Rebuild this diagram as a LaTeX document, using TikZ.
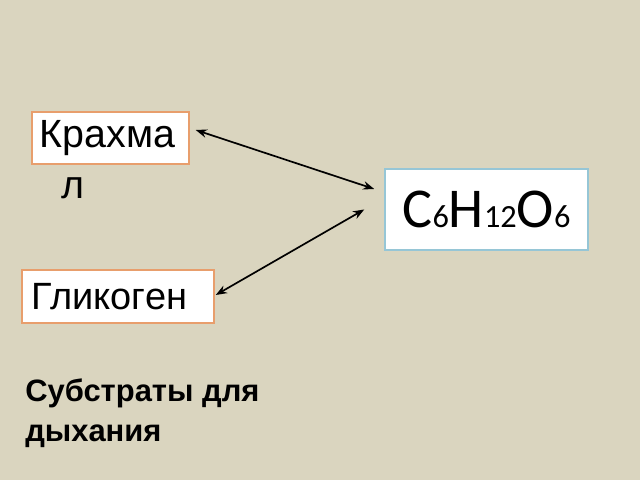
\documentclass[tikz,border=0pt]{standalone}
\usepackage{fontspec}
\setmainfont{Liberation Sans}
\newfontfamily\formulafont{Carlito}
\usetikzlibrary{arrows.meta}

\definecolor{bgtan}{RGB}{218,213,191}
\definecolor{boxorange}{RGB}{232,158,108}
\definecolor{boxblue}{RGB}{150,198,214}

\begin{document}
\begin{tikzpicture}[
    x=0.025cm, y=0.025cm,
    word/.style={rectangle, draw=boxorange, fill=white, line width=1pt, inner sep=0pt, align=left},
    chem/.style={rectangle, draw=boxblue, fill=white, line width=1pt, inner sep=0pt, font=\formulafont\fontsize{40}{46}\selectfont},
    link/.style={{Stealth[length=8pt,width=6pt]}-{Stealth[length=8pt,width=6pt]}, line width=1.2pt, black}
]

% Background
\fill[bgtan] (0,0) rectangle (640,480);
\useasboundingbox (0,0) rectangle (640,480);

% Boxes
\node[word, font=\fontsize{28}{33}\selectfont, minimum width=3.925cm, minimum height=1.3cm, text width=3.525cm] (krahmal) at (110.5,342) {Крахма};
\node[font=\fontsize{28}{33}\selectfont, anchor=base] (krahmaltail) at (73,281) {л};
\node[word, font=\fontsize{27}{32}\selectfont, minimum width=4.8cm, minimum height=1.325cm, text width=4.3cm] (glikogen) at (118,183.5) {Гликоген};
\node[chem, minimum width=5.075cm, minimum height=2.025cm] (formula) at (486.5,270.5)
    {C{\fontsize{23}{26}\selectfont 6}H{\fontsize{23}{26}\selectfont 12}O{\fontsize{23}{26}\selectfont 6}};

% Arrows
\draw[link] ([shift={(6,8)}]krahmal.east) -- ([shift={(-10,20.5)}]formula.west);
\draw[link] ([shift={(-20,0)}]formula.west) -- ([shift={(1,1.5)}]glikogen.east);

% Caption
\node[font=\bfseries\fontsize{22}{28}\selectfont, anchor=north west, align=left, inner sep=0pt] (caption) at (25,101)
    {Субстраты для\\дыхания};

\end{tikzpicture}
\end{document}
